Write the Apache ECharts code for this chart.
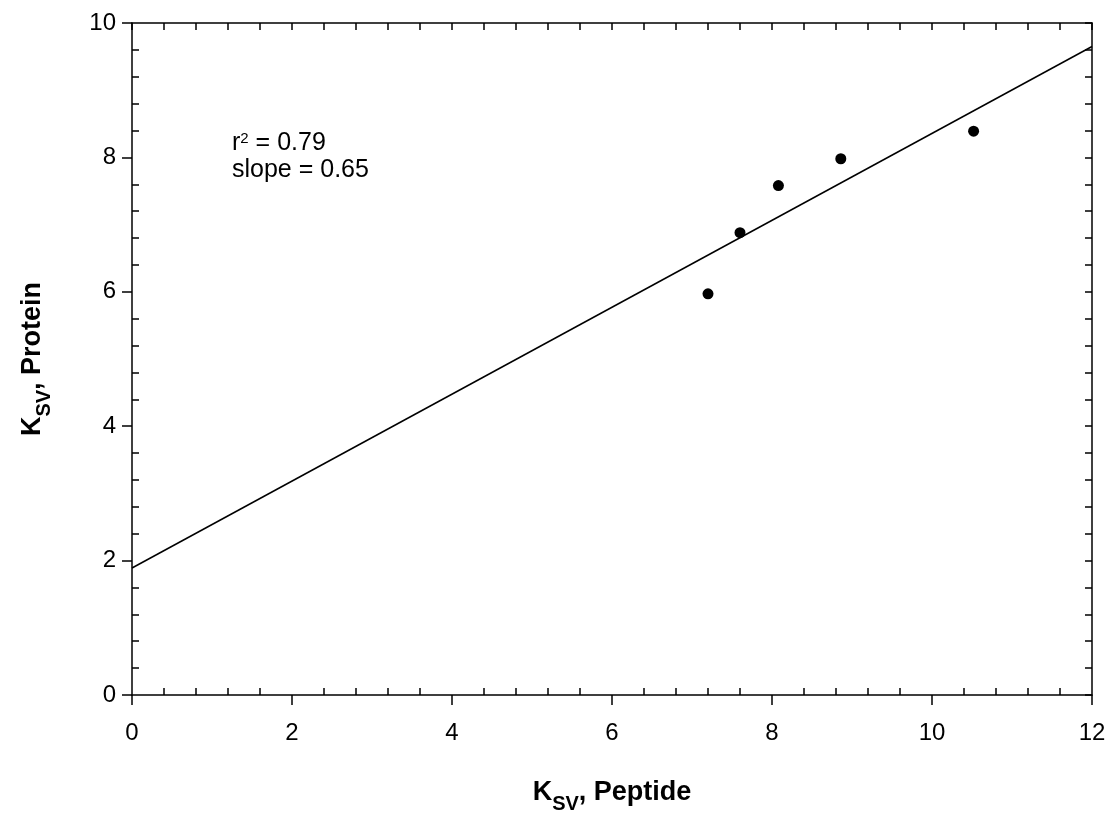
<!DOCTYPE html>
<html>
<head>
<meta charset="utf-8">
<script src="https://cdn.jsdelivr.net/npm/echarts@6/dist/echarts.min.js"></script>
<style>
html,body{margin:0;padding:0;background:#fff;}
#chart{width:1111px;height:814px;}
</style>
</head>
<body>
<div id="chart"></div>
<script>
// Data
const peptideKsv = [7.2, 7.6, 8.08, 8.86, 10.52];
const proteinKsv = [5.97, 6.88, 7.58, 7.98, 8.39];
const fitX = [0, 12];
const fitY = [1.89, 9.65];
const xTicks = [0, 2, 4, 6, 8, 10, 12];
const yTicks = [0, 2, 4, 6, 8, 10];
const annotR2 = '0.79';
const annotSlope = '0.65';

const FONT = '"Liberation Sans", Arial, sans-serif';
const points = peptideKsv.map((x, i) => [x, proteinKsv[i]]);
const fitLine = fitX.map((x, i) => [x, fitY[i]]);

const chart = echarts.init(document.getElementById('chart'), null, {renderer: 'canvas'});

const titleRich = {
  b: {fontFamily: FONT, fontSize: 27, fontWeight: 'bold', color: '#000', lineHeight: 27, verticalAlign: 'top'},
  s: {fontFamily: FONT, fontSize: 20, fontWeight: 'bold', color: '#000', lineHeight: 20, padding: [15, 0, 0, 0], verticalAlign: 'top'}
};

const base = {
  min: 0, type: 'value', splitLine: {show: false}, axisPointer: {show: false}
};
const lineStyle = {color: '#000', width: 1.5};

const option = {
  animation: false,
  backgroundColor: '#fff',
  grid: {left: 132, right: 19, top: 23, bottom: 119, outerBoundsMode: 'none', containLabel: false},
  xAxis: [
    Object.assign({}, base, {
      max: 12, interval: 2, position: 'bottom',
      axisLine: {show: true, onZero: false, lineStyle},
      axisTick: {show: true, inside: false, length: 10, lineStyle},
      axisLabel: {show: true, fontFamily: FONT, fontSize: 24, color: '#000', margin: 26,
        formatter: v => (xTicks.indexOf(v) >= 0 ? String(v) : '')},
      name: '{b|K}{s|SV}{b|, Peptide}',
      nameLocation: 'middle', nameGap: 84,
      nameTextStyle: {rich: titleRich}
    }),
    Object.assign({}, base, {
      max: 12, interval: 2, position: 'bottom',
      axisLine: {show: false, onZero: false},
      axisTick: {show: false, inside: true},
      minorTick: {show: true, splitNumber: 5, length: 7, lineStyle},
      axisLabel: {show: false}
    }),
    Object.assign({}, base, {
      max: 12, interval: 0.4, position: 'top',
      axisLine: {show: true, onZero: false, lineStyle},
      axisTick: {show: true, inside: true, length: 7, lineStyle},
      axisLabel: {show: false}
    })
  ],
  yAxis: [
    Object.assign({}, base, {
      max: 10, interval: 2, position: 'left',
      axisLine: {show: true, onZero: false, lineStyle},
      axisTick: {show: true, inside: false, length: 10, lineStyle},
      axisLabel: {show: true, fontFamily: FONT, fontSize: 24, color: '#000', margin: 16,
        formatter: v => (yTicks.indexOf(v) >= 0 ? String(v) : '')},
      name: '{b|K}{s|SV}{b|, Protein}',
      nameLocation: 'middle', nameGap: 86, nameRotate: 90,
      nameTextStyle: {rich: titleRich}
    }),
    Object.assign({}, base, {
      max: 10, interval: 2, position: 'left',
      axisLine: {show: false, onZero: false},
      axisTick: {show: false, inside: true},
      minorTick: {show: true, splitNumber: 5, length: 7, lineStyle},
      axisLabel: {show: false}
    }),
    Object.assign({}, base, {
      max: 10, interval: 0.4, position: 'right',
      axisLine: {show: true, onZero: false, lineStyle},
      axisTick: {show: true, inside: true, length: 7, lineStyle},
      axisLabel: {show: false}
    })
  ],
  series: [
    {
      type: 'line', data: fitLine, xAxisIndex: 0, yAxisIndex: 0,
      symbol: 'none', lineStyle: {color: '#000', width: 1.5}, silent: true, z: 2
    },
    {
      type: 'scatter', data: points, xAxisIndex: 0, yAxisIndex: 0,
      symbol: 'circle', symbolSize: 11, itemStyle: {color: '#000', opacity: 1}, z: 3
    }
  ],
  graphic: [
    {
      type: 'text', left: 232, top: 131,
      style: {
        text: '{a|r}{p|2}{a| = ' + annotR2 + '}\n{a|slope = ' + annotSlope + '}',
        rich: {
          a: {fontFamily: FONT, fontSize: 25, color: '#000', lineHeight: 27, verticalAlign: 'top'},
          p: {fontFamily: FONT, fontSize: 15, color: '#000', lineHeight: 15, verticalAlign: 'top'}
        }
      }
    }
  ]
};

chart.setOption(option);
</script>
</body>
</html>
